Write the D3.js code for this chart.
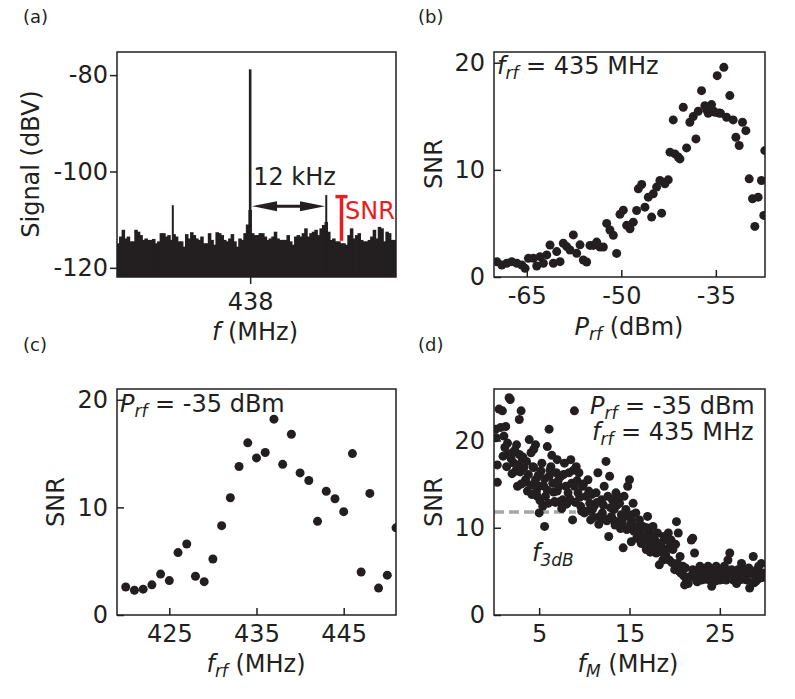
<!DOCTYPE html>
<html>
<head>
<meta charset="utf-8">
<script src="https://cdn.jsdelivr.net/npm/d3@7"></script>
<style>
  body { margin: 0; background: #fff; }
  svg text { font-family: "DejaVu Sans", sans-serif; fill: #231f20; white-space: pre; }
</style>
</head>
<body>
<script>
// ---------- data ----------
// (a) spectrum, x = offset from 438 MHz in kHz, y in dBV
var noiseStart = -20.8, noiseStep = 0.4;
var noiseLevel = [
  -114.9, -113.5, -112.1, -113.9, -113.5, -114.5, -114.5, -112.1, -112.5, -113.2,
  -114.2, -113.9, -114.2, -114.2, -114.0, -114.9, -114.5, -112.8, -112.8, -113.5,
  -113.2, -114.2, -113.0, -113.5, -114.5, -114.5, -115.6, -113.0, -113.9, -112.6,
  -113.2, -113.9, -114.2, -113.5, -114.9, -114.9, -112.8, -114.2, -115.2, -112.6,
  -112.8, -113.2, -114.2, -114.5, -113.9, -113.0, -114.5, -115.6, -113.9, -114.2,
  -112.8, -111.0, -108.0,
  -112.8, -113.2, -113.2, -112.8, -112.8, -113.5, -114.2, -113.9, -113.5, -112.5,
  -113.9, -114.2, -114.2, -114.2, -113.2, -114.5, -115.2, -113.5, -113.2, -113.5,
  -112.8, -111.8, -113.5, -112.8, -112.5, -112.1, -113.2, -111.8, -111.1, -110.5,
  -112.5, -114.2, -113.9, -114.5, -114.5, -114.9, -114.9, -115.2, -113.2, -111.8,
  -113.9, -113.2, -112.8, -114.2, -114.5, -114.5, -114.2, -113.5, -112.1, -113.9,
  -111.5, -111.8, -114.5, -112.5, -112.8, -114.2, -114.2
];
var peakOffset = [-12.2, 0, 12];
var peakLevel = [-107.0, -78.8, -104.9];

// (b) SNR vs RF power
var powerDbm = [
  -69.75, -68.96, -68.17, -67.38, -66.58, -65.79, -65.27, -64.74, -63.95, -63.42,
  -62.89, -62.37, -61.83, -61.31, -60.78, -60.25, -59.72, -59.20, -58.66, -58.14,
  -57.61, -57.08, -56.55, -56.03, -55.50, -54.97, -54.43, -53.91, -53.38, -52.85,
  -52.32, -51.80, -51.27, -50.74, -50.21, -49.68, -49.15, -48.62, -48.10, -47.57,
  -47.30, -46.77, -46.25, -45.72, -45.19, -44.93, -44.40, -43.87, -43.60, -43.08,
  -42.55, -42.28, -41.76, -41.49, -40.96, -40.70, -40.17, -39.64, -39.12, -38.59,
  -38.16, -37.79, -37.27, -36.74, -36.45, -36.21, -35.68, -35.40, -35.15, -34.78,
  -34.50, -34.26, -33.73, -33.30, -32.78, -32.25, -31.82, -31.30, -30.77, -30.24,
  -29.71, -29.18, -28.81, -28.29, -27.76, -27.39, -27.23
];
var powerSnr = [
  1.43, 1.12, 1.28, 1.43, 1.28, 1.12, 0.81, 1.74, 1.74, 1.03,
  1.90, 1.28, 2.06, 2.99, 1.28, 2.37, 1.43, 3.15, 2.84, 2.52,
  3.93, 2.21, 3.00, 1.59, 1.40, 2.95, 2.95, 3.26, 2.80, 2.80,
  5.00, 4.39, 3.90, 2.20, 5.85, 6.24, 4.82, 4.50, 5.12, 6.21,
  8.23, 8.63, 6.52, 7.45, 5.59, 7.76, 8.39, 9.01, 5.96, 8.70,
  9.07, 11.65, 14.66, 11.49, 11.20, 11.02, 15.84, 12.05, 14.44, 14.97,
  12.89, 15.47, 17.39, 15.99, 15.60, 15.28, 16.09, 15.50, 15.37, 18.79,
  15.30, 15.28, 19.57, 14.91, 16.93, 14.66, 13.04, 12.27, 14.44, 13.66,
  9.16, 7.30, 4.72, 7.45, 9.01, 5.75, 11.80
];

// (c) SNR vs RF frequency
var rfMHz = [420, 421, 422, 423, 424, 425, 426, 427, 428, 429, 430, 431, 432, 433, 434, 435,
             436, 437, 438, 439, 440, 441, 442, 443, 444, 445, 446, 447, 448, 449, 450, 451];
var rfSnr = [2.6, 2.3, 2.4, 2.8, 3.8, 3.2, 5.8, 6.6, 3.6, 3.1, 5.2, 8.3, 10.9, 13.8, 16.0, 14.6,
             15.1, 18.2, 14.0, 16.8, 13.2, 12.5, 8.7, 11.5, 10.8, 9.6, 15.0, 4.0, 11.3, 2.5, 3.7, 8.1];

// (d) SNR vs modulation frequency
var modMHz = [
  0.19, 0.26, 0.37, 0.37, 0.56, 0.74, 0.93, 1.1, 1.2, 1.3,
  1.5, 1.6, 1.67, 1.8, 1.9, 2.04, 2.2, 2.3, 2.4, 2.6,
  2.6, 2.8, 2.8, 2.9, 3.0, 3.15, 3.2, 3.3, 3.4, 3.5,
  3.7, 3.8, 3.9, 4.1, 4.1, 4.3, 4.4, 4.4, 4.6, 4.6,
  4.7, 4.8, 5.0, 5.0, 5.1, 5.2, 5.3, 5.4, 5.6, 5.6,
  5.7, 5.9, 5.9, 6.1, 6.1, 6.2, 6.3, 6.5, 6.6, 6.7,
  6.8, 6.9, 7.0, 7.1, 7.2, 7.3, 7.4, 7.6, 7.7, 7.8,
  7.96, 8.0, 8.1, 8.2, 8.3, 8.5, 8.6, 8.7, 8.9, 8.9,
  9.0, 9.1, 9.3, 9.4, 9.5, 9.6, 9.8, 9.9, 10.0, 10.2,
  10.3, 10.4, 10.6, 10.7, 10.8, 10.9, 11.1, 11.3, 11.5, 11.6,
  11.7, 11.9, 12.0, 12.1, 12.2, 12.4, 12.5, 12.6, 12.7, 12.8,
  13.0, 13.1, 13.2, 13.3, 13.5, 13.6, 13.7, 13.9, 14.0, 14.1,
  14.3, 14.4, 14.5, 14.6, 14.8, 15.0, 15.1, 15.2, 15.2, 15.4,
  15.5, 15.6, 15.7, 15.9, 16.0, 16.1, 16.3, 16.5, 16.6, 16.7,
  16.85, 17.0, 17.1, 17.2, 17.4, 17.5, 17.6, 17.8, 17.96, 18.0,
  18.1, 18.3, 18.5, 18.6, 18.7, 18.9, 19.0, 19.1, 19.3, 19.4,
  19.6, 19.7, 19.8, 20.0, 20.2, 20.3, 20.4, 20.6, 20.7, 20.9,
  21.0, 21.1, 21.3, 21.5, 21.7, 21.85, 22.0, 22.0, 22.2, 22.2,
  22.4, 22.6, 22.8, 22.96, 23.1, 23.3, 23.4, 23.5, 23.7, 23.9,
  24.1, 24.2, 24.3, 24.4, 24.6, 24.8, 25.0, 25.2, 25.3, 25.4,
  25.6, 25.7, 25.9, 26.0, 26.1, 26.3, 26.5, 26.7, 26.85, 27.0,
  27.1, 27.2, 27.4, 27.6, 27.8, 28.0, 28.1, 28.3, 28.5, 28.7,
  28.8, 28.9, 29.1, 29.2, 29.3, 29.4, 29.6, 29.8,
  1.0, 1.4, 2.0, 2.5, 3.0, 3.6, 4.2, 4.9, 5.5, 6.0,
  6.4, 7.0, 7.5, 8.4, 8.8, 9.2, 9.7, 10.5, 11.0, 11.4,
  12.3, 12.9, 13.4, 13.8, 14.2, 14.7, 15.3, 15.8, 16.2, 16.9,
  17.3, 17.7, 18.2, 18.8, 19.5, 20.1, 20.5, 21.2, 22.5, 23.0,
  24.0, 24.5, 25.5, 26.4, 27.5, 28.2, 29.0, 29.7
];
var modSnr = [
  21.3, 20.3, 17.2, 15.2, 23.6, 21.5, 23.4, 20.5, 19.2, 21.6,
  19.7, 18.4, 24.9, 24.7, 17.9, 18.6, 17.4, 18.9, 16.5, 14.75,
  17.2, 22.4, 18.4, 16.4, 23.4, 17.8, 18.1, 16.9, 15.2, 15.5,
  14.2, 16.1, 20.1, 18.6, 14.9, 17.0, 19.0, 16.9, 19.5, 15.5,
  14.2, 13.6, 11.7, 14.75, 13.1, 16.5, 17.4, 12.45, 10.15, 15.6,
  13.6, 19.3, 14.3, 21.3, 15.9, 16.6, 17.0, 15.1, 14.1, 13.0,
  12.9, 16.3, 17.8, 15.4, 14.75, 13.0, 15.9, 13.2, 16.1, 17.4,
  14.75, 12.7, 12.8, 14.0, 16.3, 17.8, 15.1, 10.9, 23.4, 14.75,
  12.9, 17.0, 14.0, 16.3, 13.5, 12.45, 14.75, 15.0, 11.7, 13.6,
  11.9, 15.5, 12.8, 10.9, 13.8, 12.1, 12.5, 14.0, 16.3, 10.4,
  11.3, 13.2, 11.7, 12.6, 14.75, 17.6, 10.8, 13.6, 9.0, 15.9,
  11.3, 13.2, 10.9, 12.1, 14.0, 12.6, 10.7, 12.8, 9.9, 11.5,
  7.7, 13.6, 11.3, 12.1, 14.75, 15.5, 10.3, 8.4, 10.9, 12.8,
  9.6, 10.15, 11.7, 9.4, 9.9, 10.9, 8.2, 10.15, 8.9, 9.0,
  7.5, 11.3, 8.4, 9.4, 7.85, 9.1, 10.15, 8.6, 7.1, 8.3,
  9.4, 5.75, 8.2, 7.2, 6.3, 8.6, 6.9, 7.5, 9.4, 6.3,
  8.6, 6.0, 7.5, 5.2, 10.7, 5.9, 9.4, 6.7, 4.8, 5.6,
  4.5, 3.45, 4.0, 3.6, 4.4, 8.6, 8.8, 5.2, 7.1, 4.6,
  4.0, 4.8, 5.6, 4.0, 5.2, 4.4, 4.1, 4.8, 5.6, 4.0,
  3.3, 4.6, 5.2, 4.4, 5.6, 4.8, 4.0, 5.2, 4.1, 4.4,
  4.8, 4.0, 6.3, 4.5, 7.1, 5.2, 4.0, 4.8, 3.6, 5.2,
  4.0, 4.4, 5.9, 4.8, 5.2, 4.0, 4.8, 3.1, 4.8, 6.7,
  3.7, 4.4, 5.2, 4.1, 5.6, 4.8, 5.9, 4.8,
  18.2, 17.0, 16.2, 19.5, 15.0, 17.6, 13.8, 16.0, 14.8, 12.8,
  18.3, 14.2, 12.2, 13.3, 16.6, 15.4, 11.9, 14.2, 11.2, 12.9,
  11.0, 12.3, 10.3, 13.5, 10.6, 9.8, 11.5, 8.8, 9.5, 10.0,
  7.2, 8.0, 7.6, 9.0, 7.9, 8.1, 5.0, 5.4, 3.8, 4.6,
  5.0, 3.9, 5.6, 4.4, 4.1, 5.4, 3.9, 4.3
];
var f3dbLevel = 11.8, f3dbEnd = 9.07;

// tick values
var spectrumYTicks = [-80, -100, -120];
var spectrumXTicks = [0], spectrumXLabels = ["438"];
var powerTicks = [-65, -50, -35];
var rfTicks = [425, 435, 445];
var modTicks = [5, 15, 25];
var snrTicks = [0, 10, 20];

// ---------- drawing ----------
var ink = "#231f20", red = "#ed1c24";
var svg = d3.select("body").append("svg").attr("width", 795).attr("height", 699);

function panel(box, xd, yd, id) {
  var x = d3.scaleLinear().domain(xd).range([box.l, box.r]);
  var y = d3.scaleLinear().domain(yd).range([box.b, box.t]);
  svg.append("clipPath").attr("id", id).append("rect")
    .attr("x", box.l).attr("y", box.t).attr("width", box.r - box.l).attr("height", box.b - box.t);
  var g = svg.append("g").attr("clip-path", "url(#" + id + ")");
  return {x: x, y: y, g: g, box: box};
}

function axes(p, xt, xfmt, yt, tick, padL, padB) {
  var bx = svg.append("g").attr("transform", "translate(0," + p.box.b + ")")
    .call(d3.axisBottom(p.x).tickValues(xt).tickFormat(xfmt).tickSize(tick).tickPadding(padB));
  var ly = svg.append("g").attr("transform", "translate(" + p.box.l + ",0)")
    .call(d3.axisLeft(p.y).tickValues(yt).tickFormat(function(d) { return String(d); }).tickSize(tick).tickPadding(padL));
  [bx, ly].forEach(function(a) {
    a.select(".domain").remove();
    a.attr("font-size", 24).attr("font-family", "DejaVu Sans");
    a.selectAll("line").attr("stroke", ink).attr("stroke-width", 1.5);
    a.selectAll("text").attr("fill", ink);
  });
  svg.append("rect").attr("x", p.box.l).attr("y", p.box.t)
    .attr("width", p.box.r - p.box.l).attr("height", p.box.b - p.box.t)
    .attr("fill", "none").attr("stroke", ink).attr("stroke-width", 1.5);
}

function rich(x, y, anchor, parts, rot) {
  var t = svg.append("text").attr("text-anchor", anchor).attr("font-size", 24);
  if (rot) t.attr("transform", "translate(" + x + "," + y + ") rotate(-90)");
  else t.attr("x", x).attr("y", y);
  var shift = 0;
  parts.forEach(function(p) {
    var s = t.append("tspan").text(p.t);
    var want = p.sub ? 5 : 0;
    if (want !== shift) { s.attr("dy", want - shift); shift = want; }
    if (p.it) s.attr("font-style", "italic");
    if (p.sub) s.attr("font-size", 17);
  });
  return t;
}

function dots(p, xs, ys) {
  p.g.selectAll("circle").data(xs).enter().append("circle")
    .attr("cx", function(d) { return p.x(d); })
    .attr("cy", function(d, i) { return p.y(ys[i]); })
    .attr("r", 4.5).attr("fill", ink);
}

// panel labels
[["(a)", 23, 23], ["(b)", 418, 23], ["(c)", 23, 351], ["(d)", 418, 351]].forEach(function(l) {
  svg.append("text").attr("x", l[1]).attr("y", l[2]).attr("font-size", 18).text(l[0]);
});

// ----- (a) -----
var pa = panel({l: 117, r: 396, t: 52, b: 277}, [-21, 23], [-121.9, -75.2], "clipA");
pa.g.selectAll("rect.noise").data(noiseLevel).enter().append("rect")
  .attr("x", function(d, i) { return pa.x(noiseStart + i * noiseStep - noiseStep / 2) - 0.5; })
  .attr("width", function() { return pa.x(noiseStep) - pa.x(0) + 1; })
  .attr("y", function(d) { return pa.y(d); })
  .attr("height", function(d) { return pa.box.b - pa.y(d); })
  .attr("fill", ink);
pa.g.selectAll("line.peak").data(peakOffset).enter().append("line")
  .attr("x1", function(d) { return pa.x(d); }).attr("x2", function(d) { return pa.x(d); })
  .attr("y1", pa.box.b).attr("y2", function(d, i) { return pa.y(peakLevel[i]); })
  .attr("stroke", ink).attr("stroke-width", function(d, i) { return i === 1 ? 2.6 : 2; });

// 12 kHz arrow
var ay = pa.y(-107.2), ax1 = pa.x(0.3), ax2 = pa.x(11.8);
svg.append("line").attr("x1", ax1 + 20).attr("x2", ax2 - 20).attr("y1", ay).attr("y2", ay)
  .attr("stroke", ink).attr("stroke-width", 3);
svg.append("path").attr("fill", ink)
  .attr("d", "M" + ax1 + "," + ay + "L" + (ax1 + 25) + "," + (ay - 5) + "L" + (ax1 + 25) + "," + (ay + 5) + "Z" +
             "M" + ax2 + "," + ay + "L" + (ax2 - 25) + "," + (ay - 5) + "L" + (ax2 - 25) + "," + (ay + 5) + "Z");
svg.append("text").attr("x", pa.x(0) + 3).attr("y", 185).attr("font-size", 24).text("12 kHz");

// SNR bracket
var sx = pa.x(14.4);
svg.append("line").attr("x1", sx).attr("x2", sx).attr("y1", pa.y(-104.9)).attr("y2", pa.y(-114.4))
  .attr("stroke", red).attr("stroke-width", 3.5);
svg.append("line").attr("x1", pa.x(13.45)).attr("x2", pa.x(15.35)).attr("y1", pa.y(-104.9) + 1.5).attr("y2", pa.y(-104.9) + 1.5)
  .attr("stroke", red).attr("stroke-width", 3.5);
svg.append("text").attr("x", 345).attr("y", 219).attr("font-size", 24).style("fill", red).text("SNR");

axes(pa, spectrumXTicks, function(d, i) { return spectrumXLabels[i]; }, spectrumYTicks, 7, 2, 9);
rich(39, 164, "middle", [{t: "Signal (dBV)"}], true);
rich(255, 340, "middle", [{t: "f", it: true}, {t: " (MHz)"}]);

// ----- (b) -----
var pb = panel({l: 494, r: 765, t: 52, b: 277}, [-70.2, -27.2], [0, 21], "clipB");
dots(pb, powerDbm, powerSnr);
axes(pb, powerTicks, function(d) { return String(d); }, snrTicks, -7, 9, 10);
rich(442, 164, "middle", [{t: "SNR"}], true);
rich(629, 335, "middle", [{t: "P", it: true}, {t: "rf", it: true, sub: true}, {t: " (dBm)"}]);
rich(497, 74, "start", [{t: "f", it: true}, {t: "rf", it: true, sub: true}, {t: " = 435 MHz"}]);

// ----- (c) -----
var pc = panel({l: 117, r: 396, t: 389, b: 615}, [419, 451], [0, 21], "clipC");
dots(pc, rfMHz, rfSnr);
axes(pc, rfTicks, function(d) { return String(d); }, snrTicks, -7, 9, 10);
rich(64, 502, "middle", [{t: "SNR"}], true);
rich(256, 672, "middle", [{t: "f", it: true}, {t: "rf", it: true, sub: true}, {t: " (MHz)"}]);
rich(120, 412, "start", [{t: "P", it: true}, {t: "rf", it: true, sub: true}, {t: " = -35 dBm"}]);

// ----- (d) -----
var pd = panel({l: 494, r: 765, t: 389, b: 615}, [0, 30], [0, 25.9], "clipD");
pd.g.append("line").attr("x1", pd.x(0)).attr("x2", pd.x(f3dbEnd))
  .attr("y1", pd.y(f3dbLevel)).attr("y2", pd.y(f3dbLevel))
  .attr("stroke", "#a6a6a6").attr("stroke-width", 3.5).attr("stroke-dasharray", "10,5");
dots(pd, modMHz, modSnr);
axes(pd, modTicks, function(d) { return String(d); }, snrTicks, -7, 9, 10);
rich(442, 502, "middle", [{t: "SNR"}], true);
rich(628, 672, "middle", [{t: "f", it: true}, {t: "M", it: true, sub: true}, {t: " (MHz)"}]);
rich(590, 414, "start", [{t: "P", it: true}, {t: "rf", it: true, sub: true}, {t: " = -35 dBm"}]);
rich(592, 440, "start", [{t: "f", it: true}, {t: "rf", it: true, sub: true}, {t: " = 435 MHz"}]);
rich(532, 561, "start", [{t: "f", it: true}, {t: "3dB", it: true, sub: true}]);
</script>
</body>
</html>
